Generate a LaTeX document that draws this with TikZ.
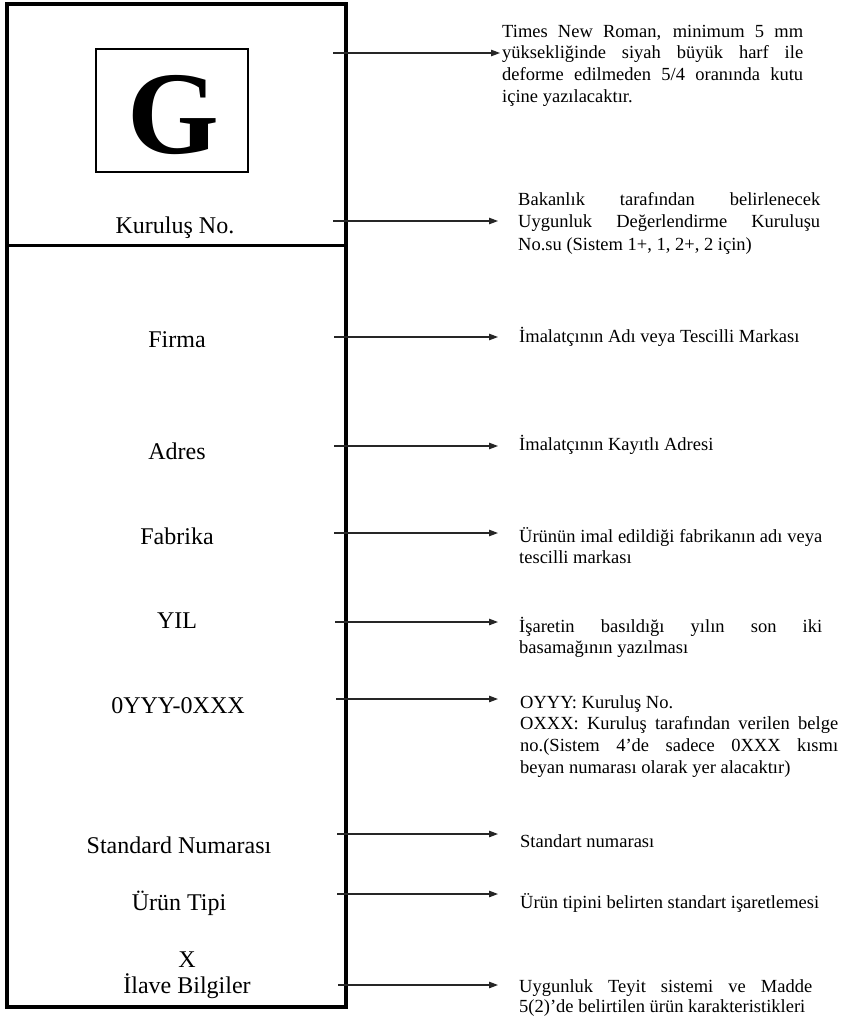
\documentclass[tikz,border=0pt]{standalone}
\usepackage{fontspec}
\setmainfont{Liberation Serif}
\usetikzlibrary{arrows.meta}
\newcommand{\jl}[2]{\makebox[#1][s]{#2}}
\tikzset{
  lbl/.style={anchor=base, inner sep=0pt, font=\fontsize{24}{28}\selectfont},
  desc/.style={anchor=base west, inner sep=0pt},
  arr/.style={line width=1.1pt, black!85, -{Triangle[length=9pt,width=6.5pt]}},
  frame/.style={line width=3.5pt},
}
\begin{document}
\begin{tikzpicture}[x=1pt,y=-1pt]
\useasboundingbox (0,0) rectangle (842,1021);
% outer frame
\draw[frame] (7,4) rectangle (346,1007);
\draw[line width=3pt] (7,245) -- (346,245);
% G box
\node[draw, line width=1.2pt, minimum width=152pt, minimum height=123pt, inner sep=0pt] (gbox) at (172,110.5) {};
\node[anchor=base, inner sep=0pt, font=\fontsize{118}{120}\selectfont\bfseries] (G) at (173.5,153) {G};
% left labels
\node[lbl] (kno) at (175,233) {Kuruluş No.};
\node[lbl] (firma) at (177,347) {Firma};
\node[lbl] (adres) at (177,459) {Adres};
\node[lbl] (fabrika) at (177,544) {Fabrika};
\node[lbl] (yil) at (177,628) {YIL};
\node[lbl] (yyy) at (178,713) {0YYY-0XXX};
\node[lbl] (std) at (179,853) {Standard Numarası};
\node[lbl] (tip) at (179,910) {Ürün Tipi};
\node[lbl] (x) at (187,967) {X};
\node[lbl] (ilave) at (187,993) {İlave Bilgiler};
% descriptions
\node[desc, font=\fontsize{18.5}{21.7}\selectfont] (d1) at (502,37) {\parbox[t]{301pt}{\jl{301pt}{Times New Roman, minimum 5 mm}\\\jl{301pt}{yüksekliğinde siyah büyük harf ile}\\\jl{301pt}{deforme edilmeden 5/4 oranında kutu}\\içine yazılacaktır.}};
\node[desc, font=\fontsize{18.5}{22.5}\selectfont] (d2) at (518,205) {\parbox[t]{302pt}{\jl{302pt}{Bakanlık tarafından belirlenecek}\\\jl{302pt}{Uygunluk Değerlendirme Kuruluşu}\\No.su (Sistem 1+, 1, 2+, 2 için)}};
\node[desc, font=\fontsize{18.5}{21.5}\selectfont] (d3) at (519,342) {İmalatçının Adı veya Tescilli Markası};
\node[desc, font=\fontsize{18.5}{21.5}\selectfont] (d4) at (519,450) {İmalatçının Kayıtlı Adresi};
\node[desc, font=\fontsize{18.5}{21}\selectfont] (d5) at (519,542) {\parbox[t]{303pt}{\jl{303pt}{Ürünün imal edildiği fabrikanın adı veya}\\tescilli markası}};
\node[desc, font=\fontsize{18.5}{21}\selectfont] (d6) at (519,632) {\parbox[t]{303pt}{\jl{303pt}{İşaretin basıldığı yılın son iki}\\basamağının yazılması}};
\node[desc, font=\fontsize{18.5}{21.7}\selectfont] (d7) at (520,708) {\parbox[t]{318pt}{OYYY: Kuruluş No.\\\jl{318pt}{OXXX: Kuruluş tarafından verilen belge}\\\jl{318pt}{no.(Sistem 4’de sadece 0XXX kısmı}\\beyan numarası olarak yer alacaktır)}};
\node[desc, font=\fontsize{18.5}{21.5}\selectfont] (d8) at (520,847) {Standart numarası};
\node[desc, font=\fontsize{18.5}{21.5}\selectfont] (d9) at (520,908) {Ürün tipini belirten standart işaretlemesi};
\node[desc, font=\fontsize{18.5}{20.5}\selectfont] (d10) at (519,992) {\parbox[t]{293pt}{\jl{293pt}{Uygunluk Teyit sistemi ve Madde}\\5(2)’de belirtilen ürün karakteristikleri}};
% arrow coordinates
\coordinate (s1) at (333,53);   \coordinate (t1) at (500,53);
\coordinate (s2) at (333,221);  \coordinate (t2) at (498,221);
\coordinate (s3) at (334,337);  \coordinate (t3) at (498,337);
\coordinate (s4) at (334,446);  \coordinate (t4) at (498,446);
\coordinate (s5) at (334,533);  \coordinate (t5) at (498,533);
\coordinate (s6) at (335,622);  \coordinate (t6) at (498,622);
\coordinate (s7) at (336,699);  \coordinate (t7) at (498,699);
\coordinate (s8) at (337,834);  \coordinate (t8) at (498,834);
\coordinate (s9) at (337,894);  \coordinate (t9) at (498,894);
\coordinate (s10) at (338,985); \coordinate (t10) at (498,985);
\foreach \i in {1,...,10} {\draw[arr] (s\i) -- (t\i);}
\end{tikzpicture}
\end{document}
